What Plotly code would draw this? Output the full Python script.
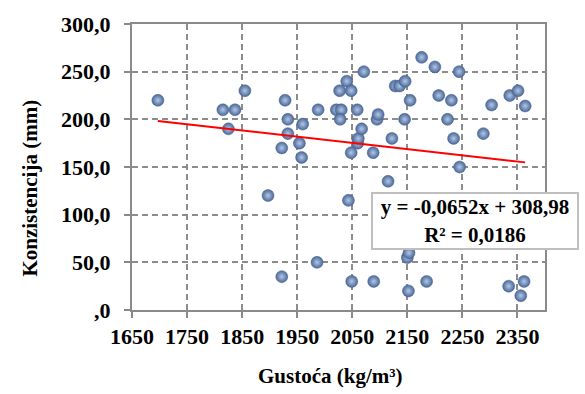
import plotly.graph_objects as go

# Data
density = [1697, 1815, 1837, 1825, 1855, 1897, 1922, 1922, 1928, 1933,
           1933, 1954, 1958, 1960, 1988, 1986, 2021, 2030, 2028, 2027,
           2040, 2048, 2043, 2048, 2049, 2059, 2060, 2061, 2067, 2071,
           2088, 2089, 2095, 2097, 2115, 2122, 2128, 2136, 2146, 2145,
           2155, 2150, 2153, 2152, 2176, 2185, 2200, 2207, 2223, 2230,
           2234, 2244, 2245, 2288, 2303, 2334, 2336, 2351, 2356, 2362,
           2364]
consistency = [220, 210, 210, 190, 230, 120, 35, 170, 220, 200,
               185, 175, 160, 195, 210, 50, 210, 210, 200, 230,
               240, 230, 115, 165, 30, 210, 175, 180, 190, 250,
               165, 30, 200, 205, 135, 180, 235, 235, 240, 200,
               220, 55, 60, 20, 265, 30, 255, 225, 200, 220,
               180, 250, 150, 185, 215, 25, 225, 230, 15, 30,
               214]

trend_slope = -0.0652
trend_intercept = 308.98
r_squared = 0.0186

x_tick_values = [1650, 1750, 1850, 1950, 2050, 2150, 2250, 2350]
x_tick_labels = ["1650", "1750", "1850", "1950", "2050", "2150", "2250", "2350"]
y_tick_values = [0, 50, 100, 150, 200, 250, 300]
y_tick_labels = [",0", "50,0", "100,0", "150,0", "200,0", "250,0", "300,0"]

x_title = "Gustoća (kg/m³)"
y_title = "Konzistencija (mm)"

FONT = "Liberation Serif"
GRID = "#8c8c8c"
AXIS = "#8a8a8a"

trend_x = [min(density), max(density)]
trend_y = [trend_slope * v + trend_intercept for v in trend_x]

fig = go.Figure()
fig.add_trace(go.Scatter(
    x=density, y=consistency, mode="markers",
    marker=dict(size=12, color="#4a6898",
                gradient=dict(type="radial", color="#b3c7e6"),
                line=dict(width=0.5, color="#45608c")),
    showlegend=False, hoverinfo="skip"))
fig.add_trace(go.Scatter(
    x=trend_x, y=trend_y, mode="lines",
    line=dict(color="#ff0000", width=2),
    showlegend=False, hoverinfo="skip"))

def fmt(v):
    return str(v).replace(".", ",")

eq_text = (f"y = {fmt(trend_slope)}x + {fmt(trend_intercept)}<br>"
           f"R² = {fmt(r_squared)}")

bold = dict(family=FONT, color="black", weight="bold")

fig.add_annotation(
    x=0.830, y=0.3127, xref="paper", yref="paper",
    xanchor="center", yanchor="middle",
    text=eq_text, showarrow=False, align="center",
    font=dict(size=21, **bold),
    bgcolor="white", bordercolor="#bfbfbf", borderwidth=2,
    borderpad=3, width=198, height=48)

# axis titles (pixel positions, converted below)
fig.add_annotation(
    x=330, y=377, xref="paper", yref="paper", text=x_title,
    showarrow=False, xanchor="center", yanchor="middle",
    font=dict(size=21, **bold))
fig.add_annotation(
    x=30, y=186, xref="paper", yref="paper", text=y_title,
    showarrow=False, xanchor="center", yanchor="middle", textangle=-90,
    font=dict(size=21, **bold))

axis_common = dict(
    showline=True, linecolor=AXIS, linewidth=2, mirror=True,
    showgrid=True, gridcolor=GRID, gridwidth=1.5, griddash="6px,4px",
    ticks="outside", ticklen=6, tickwidth=2, tickcolor=AXIS,
    zeroline=False,
    tickfont=dict(size=22, **bold),
)

fig.update_xaxes(
    range=[1650, 2400], tickvals=x_tick_values, ticktext=x_tick_labels,
    **axis_common)
fig.update_yaxes(
    range=[0, 300], tickvals=y_tick_values, ticktext=y_tick_labels,
    ticklabelstandoff=9,
    **axis_common)

W, H = 585, 394
L, R, T, B = 132, 40, 18, 84
fig.update_layout(
    width=W, height=H,
    margin=dict(l=L, r=R, t=T, b=B),
    paper_bgcolor="white", plot_bgcolor="white",
)

pw, ph = W - L - R, H - T - B
for ann in fig.layout.annotations[1:]:
    ann.x = (ann.x - L) / pw
    ann.y = (H - B - ann.y) / ph

fig.write_html("out.html",
               config={"displayModeBar": False},
               post_script="document.body.style.margin='0';"
                           "document.body.style.overflow='hidden';")
